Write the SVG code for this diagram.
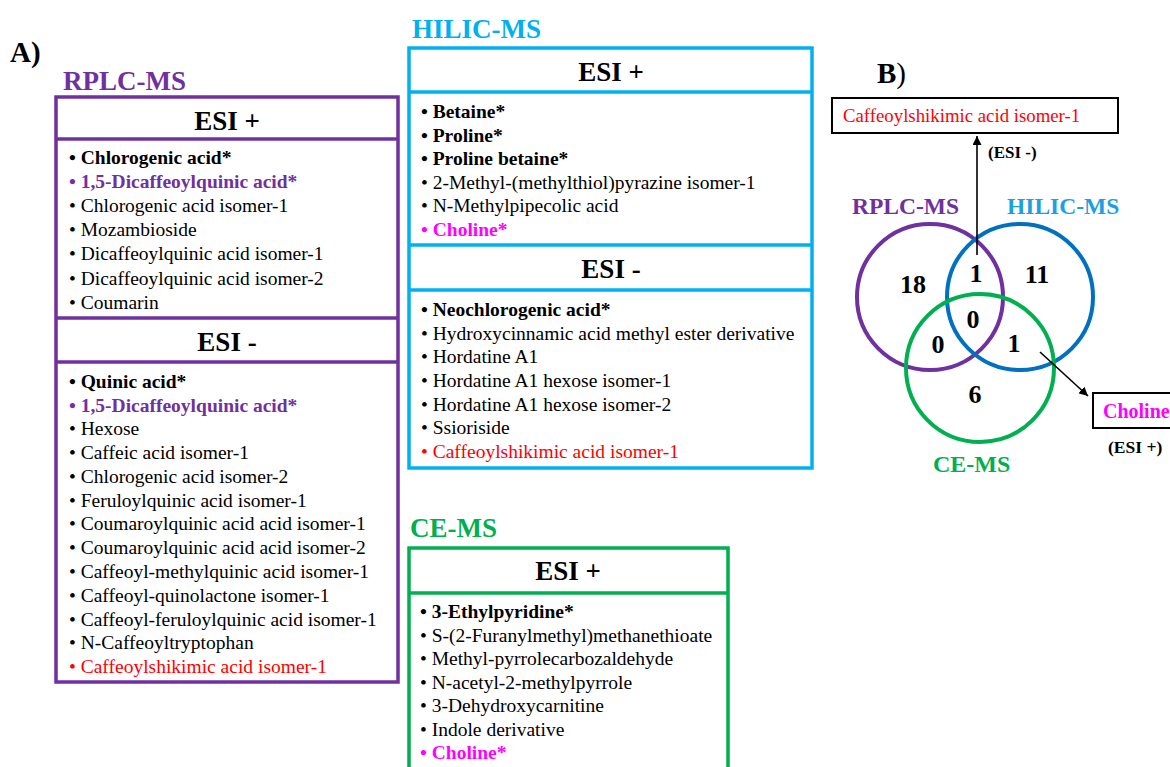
<svg xmlns="http://www.w3.org/2000/svg" width="1170" height="767" viewBox="0 0 1170 767">
<defs>
<style>
text{font-family:"Liberation Serif","Times New Roman",serif;fill:#000}
.it{font-size:19.5px}
.b{font-weight:bold}
.hd{font-size:27px;font-weight:bold;text-anchor:middle}
.tt{font-size:27px;font-weight:bold}
.pur{fill:#7030A0}.cy{fill:#00B0F0}.gr{fill:#00B050}.red{fill:#FF0000}.mag{fill:#FF00FF}
.num{font-size:26px;font-weight:bold;text-anchor:middle}
.box{fill:#fff;stroke-width:3.5}
</style>
<marker id="ah" viewBox="0 0 10 10" refX="10" refY="5" markerWidth="9" markerHeight="9" markerUnits="userSpaceOnUse" orient="auto"><path d="M0,0 L10,5 L0,10 z" fill="#000"/></marker>
</defs>
<rect width="1170" height="767" fill="#fff"/>
<text x="10" y="62" class="tt" style="font-size:29px">A)</text>

<g id="rplc">
<text x="63" y="90" class="tt pur">RPLC-MS</text>
<rect x="56" y="97" width="342" height="585" class="box" stroke="#7030A0"/>
<line x1="56" y1="139" x2="398" y2="139" stroke="#7030A0" stroke-width="3.5"/>
<line x1="56" y1="318" x2="398" y2="318" stroke="#7030A0" stroke-width="3.5"/>
<line x1="56" y1="362" x2="398" y2="362" stroke="#7030A0" stroke-width="3.5"/>
<text x="227" y="130" class="hd">ESI +</text>
<text x="227" y="351" class="hd">ESI -</text>
<text x="69" y="164" class="it b">• Chlorogenic acid*</text>
<text x="69" y="188" class="it b pur">• 1,5-Dicaffeoylquinic acid*</text>
<text x="69" y="212" class="it">• Chlorogenic acid isomer-1</text>
<text x="69" y="236" class="it">• Mozambioside</text>
<text x="69" y="260" class="it">• Dicaffeoylquinic acid isomer-1</text>
<text x="69" y="285" class="it">• Dicaffeoylquinic acid isomer-2</text>
<text x="69" y="309" class="it">• Coumarin</text>
<text x="69" y="388" class="it b">• Quinic acid*</text>
<text x="69" y="412" class="it b pur">• 1,5-Dicaffeoylquinic acid*</text>
<text x="69" y="435" class="it">• Hexose</text>
<text x="69" y="459" class="it">• Caffeic acid isomer-1</text>
<text x="69" y="483" class="it">• Chlorogenic acid isomer-2</text>
<text x="69" y="507" class="it">• Feruloylquinic acid isomer-1</text>
<text x="69" y="530" class="it">• Coumaroylquinic acid acid isomer-1</text>
<text x="69" y="554" class="it">• Coumaroylquinic acid acid isomer-2</text>
<text x="69" y="578" class="it">• Caffeoyl-methylquinic acid isomer-1</text>
<text x="69" y="602" class="it">• Caffeoyl-quinolactone isomer-1</text>
<text x="69" y="626" class="it">• Caffeoyl-feruloylquinic acid isomer-1</text>
<text x="69" y="649" class="it">• N-Caffeoyltryptophan</text>
<text x="69" y="673" class="it red">• Caffeoylshikimic acid isomer-1</text>
</g>

<g id="hilic">
<text x="412" y="38" class="tt cy">HILIC-MS</text>
<rect x="409" y="48" width="403" height="420" class="box" stroke="#00B0F0"/>
<line x1="409" y1="92" x2="812" y2="92" stroke="#00B0F0" stroke-width="3.5"/>
<line x1="409" y1="245" x2="812" y2="245" stroke="#00B0F0" stroke-width="3.5"/>
<line x1="409" y1="290" x2="812" y2="290" stroke="#00B0F0" stroke-width="3.5"/>
<text x="611" y="81" class="hd">ESI +</text>
<text x="611" y="278" class="hd">ESI -</text>
<text x="421" y="118" class="it b">• Betaine*</text>
<text x="421" y="142" class="it b">• Proline*</text>
<text x="421" y="165" class="it b">• Proline betaine*</text>
<text x="421" y="189" class="it">• 2-Methyl-(methylthiol)pyrazine isomer-1</text>
<text x="421" y="212" class="it">• N-Methylpipecolic acid</text>
<text x="421" y="236" class="it b mag">• Choline*</text>
<text x="421" y="316" class="it b">• Neochlorogenic acid*</text>
<text x="421" y="340" class="it">• Hydroxycinnamic acid methyl ester derivative</text>
<text x="421" y="363" class="it">• Hordatine A1</text>
<text x="421" y="387" class="it">• Hordatine A1 hexose isomer-1</text>
<text x="421" y="411" class="it">• Hordatine A1 hexose isomer-2</text>
<text x="421" y="434" class="it">• Ssioriside</text>
<text x="421" y="458" class="it red">• Caffeoylshikimic acid isomer-1</text>
</g>

<g id="ce">
<text x="410" y="537" class="tt gr">CE-MS</text>
<rect x="409" y="548" width="319" height="240" class="box" stroke="#00B050"/>
<line x1="409" y1="593" x2="728" y2="593" stroke="#00B050" stroke-width="3.5"/>
<text x="568" y="580" class="hd">ESI +</text>
<text x="420" y="618" class="it b">• 3-Ethylpyridine*</text>
<text x="420" y="642" class="it">• S-(2-Furanylmethyl)methanethioate</text>
<text x="420" y="665" class="it">• Methyl-pyrrolecarbozaldehyde</text>
<text x="420" y="689" class="it">• N-acetyl-2-methylpyrrole</text>
<text x="420" y="712" class="it">• 3-Dehydroxycarnitine</text>
<text x="420" y="736" class="it">• Indole derivative</text>
<text x="420" y="759" class="it b mag">• Choline*</text>
</g>

<g id="venn">
<text x="877" y="83" class="b" style="font-size:29px">B<tspan style="font-weight:normal">)</tspan></text>
<circle cx="930" cy="297" r="73" fill="none" stroke="#7030A0" stroke-width="4"/>
<circle cx="1020" cy="297" r="73" fill="none" stroke="#0070C0" stroke-width="4"/>
<circle cx="980" cy="368" r="74" fill="none" stroke="#00B050" stroke-width="4"/>
<text x="852" y="214" class="b pur" style="font-size:23.5px">RPLC-MS</text>
<text x="1007" y="214" class="b" style="font-size:23.5px;fill:#1BA1E2">HILIC-MS</text>
<text x="933" y="472" class="b gr" style="font-size:24px">CE-MS</text>
<text x="913" y="293" class="num">18</text>
<text x="976" y="282" class="num">1</text>
<text x="1037" y="283" class="num">11</text>
<text x="973" y="328" class="num">0</text>
<text x="938" y="353" class="num">0</text>
<text x="1014" y="352" class="num">1</text>
<text x="975" y="403" class="num">6</text>
</g>

<g id="box-caff">
<rect x="832" y="98" width="286" height="35" fill="#fff" stroke="#000" stroke-width="2"/>
<text x="843" y="122" class="red" style="font-size:18.8px">Caffeoylshikimic acid isomer-1</text>
</g>
<g id="box-choline">
<rect x="1093" y="393" width="90" height="35" fill="#fff" stroke="#000" stroke-width="2"/>
<text x="1103" y="418" class="b mag" style="font-size:20px">Choline</text>
</g>

<g id="connectors">
<line x1="977" y1="255" x2="977" y2="136" stroke="#000" stroke-width="1.6" marker-end="url(#ah)"/>
<line x1="1040" y1="352" x2="1088" y2="396" stroke="#000" stroke-width="1.6" marker-end="url(#ah)"/>
<text x="988" y="158" class="b" style="font-size:17px">(ESI -)</text>
<text x="1108" y="453" class="b" style="font-size:17.5px">(ESI +)</text>
</g>
</svg>
